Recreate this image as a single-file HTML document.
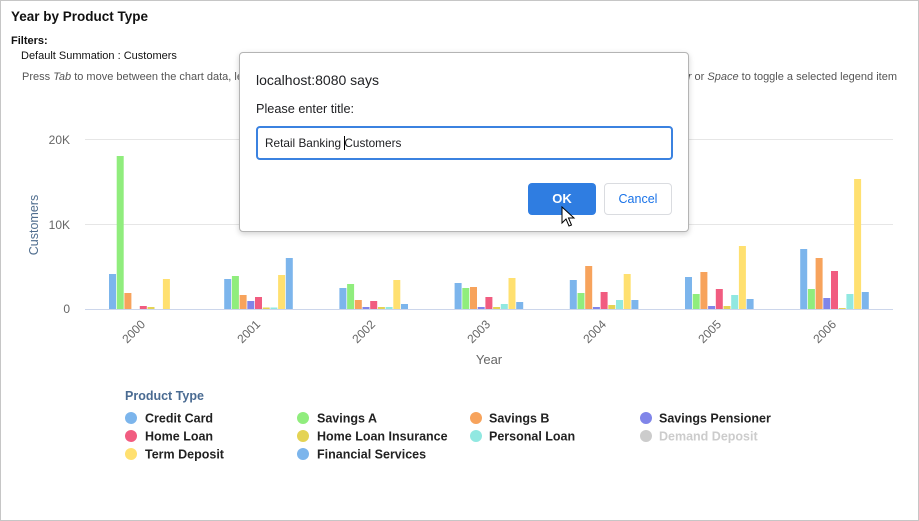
<!DOCTYPE html>
<html><head><meta charset="utf-8">
<style>
html,body{margin:0;padding:0;background:#fff;}
body{width:919px;height:521px;position:relative;overflow:hidden;font-family:"Liberation Sans",Arial,sans-serif;}
.frame{position:absolute;left:0;top:0;width:917px;height:519px;border:1px solid #c6c6c6;}
.abs{position:absolute;white-space:nowrap;}
.dlg{position:absolute;left:239px;top:52px;width:448px;height:178px;background:#fff;border:1px solid #b4b4b4;border-radius:4px;box-shadow:0 2px 6px rgba(0,0,0,0.18);}
</style></head>
<body>
<div class="frame"></div>
<div class="abs" style="left:11px;top:9px;font-size:13.5px;font-weight:bold;color:#111;">Year by Product Type</div>
<div class="abs" style="left:11px;top:35px;font-size:11px;font-weight:bold;color:#111;">Filters:</div>
<div class="abs" style="left:21px;top:50px;font-size:11px;color:#111;">Default Summation : Customers</div>
<div class="abs" style="left:22px;top:71px;font-size:11px;color:#555;">Press <i>Tab</i> to move between the chart data, legend and the chart buttons. Press <i>Enter</i></div>
<div class="abs" style="right:22px;top:71px;font-size:11px;color:#555;text-align:right;">buttons. Press <i>Enter</i> or <i>Space</i> to toggle a selected legend item</div>

<svg class="abs" style="left:0;top:0" width="919" height="521" xmlns="http://www.w3.org/2000/svg" font-family="Liberation Sans, Arial, sans-serif">
<line x1="85" y1="139.5" x2="893" y2="139.5" stroke="#e6e6e6"/>
<line x1="85" y1="224.5" x2="893" y2="224.5" stroke="#e6e6e6"/>
<g font-size="12" fill="#666" text-anchor="end">
<text x="70" y="144">20K</text>
<text x="70" y="229">10K</text>
<text x="70" y="313">0</text>
</g>
<text x="38" y="225" font-size="12.5" fill="#4f6d8e" text-anchor="middle" transform="rotate(-90 38 225)">Customers</text>
<g>
<!-- 2000 -->
<rect x="109" y="274" width="7" height="35" fill="#7cb5ec"/>
<rect x="116.7" y="156" width="7" height="153" fill="#90ed7d"/>
<rect x="124.4" y="293" width="7" height="16" fill="#f7a35c"/>
<rect x="139.8" y="306" width="7" height="3" fill="#f15c80"/>
<rect x="147.5" y="307" width="7" height="2" fill="#e4d354"/>
<rect x="162.9" y="279" width="7" height="30" fill="#ffe070"/>
<!-- 2001 -->
<rect x="224.2" y="279" width="7" height="30" fill="#7cb5ec"/>
<rect x="231.9" y="276" width="7" height="33" fill="#90ed7d"/>
<rect x="239.6" y="295" width="7" height="14" fill="#f7a35c"/>
<rect x="247.3" y="301" width="7" height="8" fill="#8085e9"/>
<rect x="255.0" y="297" width="7" height="12" fill="#f15c80"/>
<rect x="262.7" y="307.5" width="7" height="1.5" fill="#e4d354"/>
<rect x="270.4" y="307.5" width="7" height="1.5" fill="#91e8e1"/>
<rect x="278.1" y="275" width="7" height="34" fill="#ffe070"/>
<rect x="285.8" y="258" width="7" height="51" fill="#7cb5ec"/>
<!-- 2002 -->
<rect x="339.4" y="288" width="7" height="21" fill="#7cb5ec"/>
<rect x="347.1" y="284" width="7" height="25" fill="#90ed7d"/>
<rect x="354.8" y="300" width="7" height="9" fill="#f7a35c"/>
<rect x="362.5" y="307" width="7" height="2" fill="#8085e9"/>
<rect x="370.2" y="301" width="7" height="8" fill="#f15c80"/>
<rect x="377.9" y="307" width="7" height="2" fill="#e4d354"/>
<rect x="385.6" y="307" width="7" height="2" fill="#91e8e1"/>
<rect x="393.3" y="280" width="7" height="29" fill="#ffe070"/>
<rect x="401.0" y="304" width="7" height="5" fill="#7cb5ec"/>
<!-- 2003 -->
<rect x="454.6" y="283" width="7" height="26" fill="#7cb5ec"/>
<rect x="462.3" y="288" width="7" height="21" fill="#90ed7d"/>
<rect x="470.0" y="287" width="7" height="22" fill="#f7a35c"/>
<rect x="477.7" y="307" width="7" height="2" fill="#8085e9"/>
<rect x="485.4" y="297" width="7" height="12" fill="#f15c80"/>
<rect x="493.1" y="307" width="7" height="2" fill="#e4d354"/>
<rect x="500.8" y="304" width="7" height="5" fill="#91e8e1"/>
<rect x="508.5" y="278" width="7" height="31" fill="#ffe070"/>
<rect x="516.2" y="302" width="7" height="7" fill="#7cb5ec"/>
<!-- 2004 -->
<rect x="569.8" y="280" width="7" height="29" fill="#7cb5ec"/>
<rect x="577.5" y="293" width="7" height="16" fill="#90ed7d"/>
<rect x="585.2" y="266" width="7" height="43" fill="#f7a35c"/>
<rect x="592.9" y="307" width="7" height="2" fill="#8085e9"/>
<rect x="600.6" y="292" width="7" height="17" fill="#f15c80"/>
<rect x="608.3" y="305" width="7" height="4" fill="#e4d354"/>
<rect x="616.0" y="300" width="7" height="9" fill="#91e8e1"/>
<rect x="623.7" y="274" width="7" height="35" fill="#ffe070"/>
<rect x="631.4" y="300" width="7" height="9" fill="#7cb5ec"/>
<!-- 2005 -->
<rect x="685.0" y="277" width="7" height="32" fill="#7cb5ec"/>
<rect x="692.7" y="294" width="7" height="15" fill="#90ed7d"/>
<rect x="700.4" y="272" width="7" height="37" fill="#f7a35c"/>
<rect x="708.1" y="306" width="7" height="3" fill="#8085e9"/>
<rect x="715.8" y="289" width="7" height="20" fill="#f15c80"/>
<rect x="723.5" y="306" width="7" height="3" fill="#e4d354"/>
<rect x="731.2" y="295" width="7" height="14" fill="#91e8e1"/>
<rect x="738.9" y="246" width="7" height="63" fill="#ffe070"/>
<rect x="746.6" y="299" width="7" height="10" fill="#7cb5ec"/>
<!-- 2006 -->
<rect x="800.2" y="249" width="7" height="60" fill="#7cb5ec"/>
<rect x="807.9" y="289" width="7" height="20" fill="#90ed7d"/>
<rect x="815.6" y="258" width="7" height="51" fill="#f7a35c"/>
<rect x="823.3" y="298" width="7" height="11" fill="#8085e9"/>
<rect x="831.0" y="271" width="7" height="38" fill="#f15c80"/>
<rect x="838.7" y="308" width="7" height="1" fill="#e4d354"/>
<rect x="846.4" y="294" width="7" height="15" fill="#91e8e1"/>
<rect x="854.1" y="179" width="7" height="130" fill="#ffe070"/>
<rect x="861.8" y="292" width="7" height="17" fill="#7cb5ec"/>
</g>
<line x1="85" y1="309.5" x2="893" y2="309.5" stroke="#ccd6eb"/>
<g font-size="12" fill="#666" text-anchor="end">
<text x="146" y="325" transform="rotate(-45 146 325)">2000</text>
<text x="261" y="325" transform="rotate(-45 261 325)">2001</text>
<text x="376" y="325" transform="rotate(-45 376 325)">2002</text>
<text x="491" y="325" transform="rotate(-45 491 325)">2003</text>
<text x="607" y="325" transform="rotate(-45 607 325)">2004</text>
<text x="722" y="325" transform="rotate(-45 722 325)">2005</text>
<text x="837" y="325" transform="rotate(-45 837 325)">2006</text>
</g>
<text x="489" y="364" font-size="13" fill="#666" text-anchor="middle">Year</text>
<text x="125" y="400" font-size="12.5" font-weight="bold" fill="#4a6b92">Product Type</text>
<g font-size="12.5" font-weight="bold" fill="#222">
<circle cx="131" cy="418" r="6" fill="#7cb5ec"/><text x="145" y="422.5">Credit Card</text>
<circle cx="303" cy="418" r="6" fill="#90ed7d"/><text x="317" y="422.5">Savings A</text>
<circle cx="476" cy="418" r="6" fill="#f7a35c"/><text x="489" y="422.5">Savings B</text>
<circle cx="646" cy="418" r="6" fill="#8085e9"/><text x="659" y="422.5">Savings Pensioner</text>
<circle cx="131" cy="436" r="6" fill="#f15c80"/><text x="145" y="440.5">Home Loan</text>
<circle cx="303" cy="436" r="6" fill="#e4d354"/><text x="317" y="440.5">Home Loan Insurance</text>
<circle cx="476" cy="436" r="6" fill="#91e8e1"/><text x="489" y="440.5">Personal Loan</text>
<circle cx="646" cy="436" r="6" fill="#cccccc"/><text x="659" y="440.5" fill="#cccccc">Demand Deposit</text>
<circle cx="131" cy="454" r="6" fill="#ffe070"/><text x="145" y="458.5">Term Deposit</text>
<circle cx="303" cy="454" r="6" fill="#7cb5ec"/><text x="317" y="458.5">Financial Services</text>
</g>
</svg>

<div class="dlg">
  <div class="abs" style="left:16px;top:19px;font-size:14px;color:#202124;">localhost:8080 says</div>
  <div class="abs" style="left:16px;top:49px;font-size:12.7px;color:#202124;">Please enter title:</div>
  <div class="abs" style="left:16px;top:73px;width:413px;height:30px;border:2px solid #3b82e0;border-radius:4px;box-sizing:content-box;">
    <div class="abs" style="left:7px;top:8px;font-size:11.8px;color:#202124;">Retail Banking <span style="display:inline-block;width:1px;height:14px;background:#000;vertical-align:-3px;margin-right:-1px;"></span>Customers</div>
  </div>
  <div class="abs" style="left:288px;top:130px;width:68px;height:32px;background:#2f7de1;border-radius:4px;color:#fff;font-size:13px;font-weight:bold;text-align:center;line-height:32px;">OK</div>
  <div class="abs" style="left:364px;top:130px;width:66px;height:30px;background:#fff;border:1px solid #dadce0;border-radius:4px;color:#1a73e8;font-size:12.5px;text-align:center;line-height:30px;">Cancel</div>
</div>
<svg class="abs" style="left:561px;top:206px" width="16" height="22" xmlns="http://www.w3.org/2000/svg">
<path d="M1 1 L1 17 L5 13 L8 20 L10.5 19 L7.5 12 L13 12 Z" fill="#fff" stroke="#000" stroke-width="1"/>
</svg>
</body></html>
